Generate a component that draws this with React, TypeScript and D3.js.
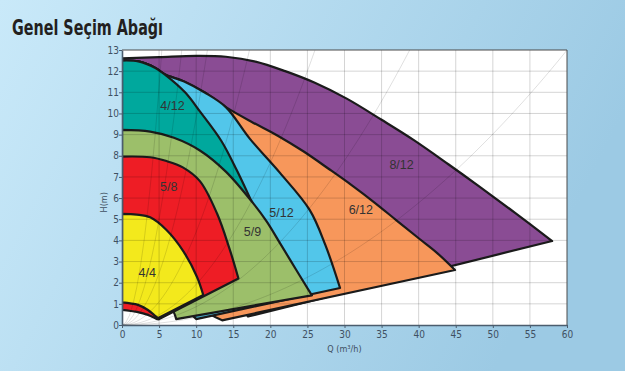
import React, { useEffect, useRef } from "react";
import * as d3 from "d3";

// pump names, drawn back to front
const pumps = ["8/12", "6/12", "5/12", "4/12", "5/9", "5/8", "4/4"];
const colors = ["#8a4c94", "#f7975b", "#52c6ea", "#00a89d", "#9cbf6a", "#ee1d25", "#f3e91c"];

// max speed curves (Q, H), left -> right end
const top812 = [[0, 12.6], [5, 12.66], [10, 12.72], [14, 12.68], [18, 12.45], [22, 12.0], [26, 11.45], [30.3, 10.7], [35, 9.7], [39.3, 8.75], [44, 7.6], [48.2, 6.54], [53, 5.3], [58, 3.97]];
const top612 = [[0, 12.5], [2.2, 12.46], [4.5, 12.15], [5.75, 11.85], [8.45, 11.5], [11.1, 11.0], [14, 10.3], [17.5, 9.6], [21, 8.95], [24.5, 8.2], [28, 7.35], [31, 6.6], [34, 5.8], [37, 4.95], [40, 4.1], [42.5, 3.4], [44.9, 2.6]];
const top512 = [[0, 12.5], [2.2, 12.46], [4.5, 12.15], [5.75, 11.85], [8.45, 11.5], [11.1, 11.0], [14, 10.3], [17.25, 8.8], [21.3, 7.19], [25.3, 5.44], [27.4, 3.8], [29.4, 1.75]];
const top412 = [[0, 12.5], [2.2, 12.46], [4.5, 12.15], [5.75, 11.85], [8.5, 11.0], [10.5, 10.1], [13.4, 8.7], [15.5, 7.3], [17.9, 5.5]];
const top59 = [[0, 9.22], [3.8, 9.14], [7, 8.85], [10.5, 8.25], [14, 7.25], [17.7, 5.75], [19.5, 4.9], [21.3, 3.87], [23.5, 2.6], [25.6, 1.4]];
const top58 = [[0, 7.96], [3.8, 7.93], [6, 7.75], [8.2, 7.45], [10.5, 6.8], [12.8, 5.28], [14.5, 3.6], [15.7, 2.2]];
const top44 = [[0, 5.25], [2, 5.22], [3.8, 5.09], [6, 4.49], [8.3, 3.47], [10.1, 2.28], [10.96, 1.42]];

// min speed curves, from the bottom-left corner back to Q = 0
const min812 = [[17, 0.4], [15, 1.2], [8, 2.6], [0, 3.2]];
const min612 = [[13.5, 0.22], [11.9, 0.5], [8, 1.5], [0, 3]];
const min512 = [[10, 0.28], [9, 0.6], [5, 1.5], [0, 2.5]];
const min412 = [[8, 0.6], [4, 1.8], [0, 2.5]];
const min59 = [[7.3, 0.28], [6.7, 0.75], [4, 1.3], [0, 1.6]];
const min58 = [[4.95, 0.27], [4.6, 0.3], [3.5, 0.48], [2, 0.62], [0, 0.72]];
const min44 = [[4.9, 0.33], [4.6, 0.4], [3.5, 0.71], [2.15, 0.95], [0, 1.07]];

const tops = [top812, top612, top512, top412, top59, top58, top44];
const mins = [min812, min612, min512, min412, min59, min58, min44];

// label centres (Q, H)
const labelPos = [[37.7, 7.57], [32.2, 5.44], [21.5, 5.34], [6.8, 10.36], [17.6, 4.44], [6.3, 6.57], [3.4, 2.5]];

const xTicks = [0, 5, 10, 15, 20, 25, 30, 35, 40, 45, 50, 55, 60];
const yTicks = [0, 1, 2, 3, 4, 5, 6, 7, 8, 9, 10, 11, 12, 13];

// system curves H = k * Q^2
const systemK = [0.45, 0.2, 0.098, 0.044, 0.0192, 0.00864, 0.00361];

const W = 625;
const H = 371;

const Chart = () => {
  const chartEl = useRef(null);

  useEffect(() => {
    const svg = d3.select(chartEl.current);
    svg.selectAll("*").remove();

    const x = d3.scaleLinear().domain([0, 60]).range([122, 567]);
    const y = d3.scaleLinear().domain([0, 13]).range([325, 50]);
    const tickFont = "'Liberation Sans Narrow', 'DejaVu Sans Condensed', 'Liberation Sans', sans-serif";

    const defs = svg.append("defs");
    const grad = defs
      .append("linearGradient")
      .attr("id", "bg")
      .attr("x1", "0")
      .attr("y1", "0")
      .attr("x2", "1")
      .attr("y2", "0.3");
    grad.append("stop").attr("offset", "0").attr("stop-color", "#c9e9f9");
    grad.append("stop").attr("offset", "1").attr("stop-color", "#9ccae4");
    defs
      .append("clipPath")
      .attr("id", "plotclip")
      .append("rect")
      .attr("x", x(0))
      .attr("y", y(13))
      .attr("width", x(60) - x(0))
      .attr("height", y(0) - y(13));

    svg.append("rect").attr("width", W).attr("height", H).attr("fill", "url(#bg)");

    svg
      .append("text")
      .attr("x", 12)
      .attr("y", 35)
      .attr("textLength", 151)
      .attr("lengthAdjust", "spacingAndGlyphs")
      .style("font-family", tickFont)
      .style("font-weight", "bold")
      .style("font-size", "21px")
      .attr("fill", "#231f20")
      .text("Genel Seçim Abağı");

    svg
      .append("rect")
      .attr("x", x(0))
      .attr("y", y(13))
      .attr("width", x(60) - x(0))
      .attr("height", y(0) - y(13))
      .attr("fill", "#fff");

    const smooth = d3
      .line()
      .x((d) => x(d[0]))
      .y((d) => y(d[1]))
      .curve(d3.curveCatmullRom.alpha(0.5));

    const plot = svg.append("g").attr("clip-path", "url(#plotclip)");

    plot
      .selectAll(".pump")
      .data(pumps)
      .enter()
      .append("path")
      .attr("class", "pump")
      .attr("d", (d, i) => smooth(tops[i]) + smooth(mins[i]).replace("M", "L") + "Z")
      .attr("fill", (d, i) => colors[i])
      .attr("stroke", "#1b1b1b")
      .attr("stroke-width", 2.2)
      .attr("stroke-linejoin", "round");

    // grid on top, see-through
    const grid = plot.append("g").attr("stroke", "rgba(0,0,0,0.17)").attr("stroke-width", 1);
    grid
      .selectAll(".vg")
      .data(xTicks.slice(1, -1))
      .enter()
      .append("line")
      .attr("x1", (d) => x(d))
      .attr("x2", (d) => x(d))
      .attr("y1", y(0))
      .attr("y2", y(13));
    grid
      .selectAll(".hg")
      .data(yTicks.slice(1, -1))
      .enter()
      .append("line")
      .attr("x1", x(0))
      .attr("x2", x(60))
      .attr("y1", (d) => y(d))
      .attr("y2", (d) => y(d));

    const sys = d3
      .line()
      .x((d) => x(d[0]))
      .y((d) => y(d[1]));
    plot
      .selectAll(".sys")
      .data(systemK)
      .enter()
      .append("path")
      .attr("d", (k) => sys(d3.range(0, 60.5, 0.5).map((q) => [q, k * q * q])))
      .attr("fill", "none")
      .attr("stroke", "rgba(0,0,0,0.16)")
      .attr("stroke-width", 0.8);

    plot
      .selectAll(".lbl")
      .data(pumps)
      .enter()
      .append("text")
      .attr("x", (d, i) => x(labelPos[i][0]))
      .attr("y", (d, i) => y(labelPos[i][1]) + 4.5)
      .attr("text-anchor", "middle")
      .style("font-family", "'Liberation Sans', Arial, sans-serif")
      .style("font-size", "12.5px")
      .attr("fill", "#333")
      .text((d) => d);

    // frame
    svg
      .append("path")
      .attr("d", `M${x(0)},${y(13)}H${x(60)}V${y(0)}`)
      .attr("fill", "none")
      .attr("stroke", "#4a4a4a")
      .attr("stroke-width", 1);

    const xAxis = svg
      .append("g")
      .attr("transform", `translate(0,${y(0)})`)
      .call(d3.axisBottom(x).tickValues(xTicks).tickSize(3).tickSizeOuter(0));
    const yAxis = svg
      .append("g")
      .attr("transform", `translate(${x(0)},0)`)
      .call(d3.axisLeft(y).tickValues(yTicks).tickSize(3).tickSizeOuter(0));

    [xAxis, yAxis].forEach((a) => {
      a.select(".domain").attr("stroke", "#4b5d6e").attr("stroke-width", 1.6);
      a.selectAll(".tick line").attr("stroke", "#4b5d6e");
      a.selectAll(".tick text")
        .attr("fill", "#3f5062")
        .style("font-family", tickFont)
        .style("font-size", "10px");
    });
    xAxis.selectAll(".tick text").attr("y", 6);
    yAxis.selectAll(".tick text").attr("x", -3);

    svg
      .append("text")
      .attr("x", x(30))
      .attr("y", 352)
      .attr("text-anchor", "middle")
      .style("font-family", tickFont)
      .style("font-size", "9px")
      .attr("fill", "#3f5062")
      .text("Q (m³/h)");

    svg
      .append("text")
      .attr("transform", `translate(107,${y(5.8)}) rotate(-90)`)
      .attr("text-anchor", "middle")
      .style("font-family", tickFont)
      .style("font-size", "9px")
      .attr("fill", "#3f5062")
      .text("H(m)");
  }, [chartEl]);

  return (
    <svg
      ref={chartEl}
      width={W}
      height={H}
      style={{ position: "absolute", left: 0, top: 0, display: "block" }}
    ></svg>
  );
};

export default function App() {
  return <Chart />;
}
